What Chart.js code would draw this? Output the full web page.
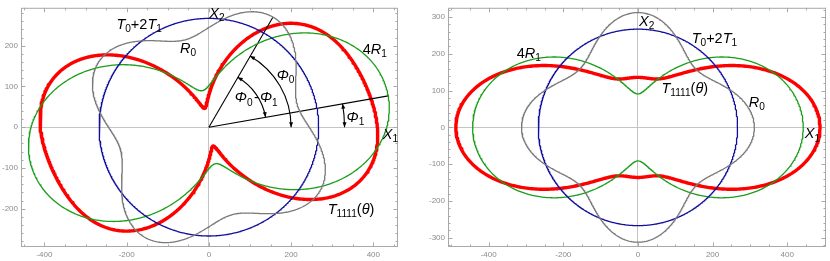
<!DOCTYPE html>
<html><head><meta charset="utf-8">
<script src="https://cdn.jsdelivr.net/npm/chart.js@4.4.1/dist/chart.umd.min.js"></script>
<style>
html,body{margin:0;padding:0;background:#fff;}
#wrap{position:relative;width:830px;height:261px;overflow:hidden;}
canvas{position:absolute;top:0;}
</style></head><body>
<div id="wrap"><canvas id="c1" width="415" height="261" style="left:0"></canvas><canvas id="c2" width="415" height="261" style="left:415px"></canvas></div>
<script>
// ---- data (polar invariants) ----
const panelNames = ['rotated', 'aligned'];
const isoModulus = [267, 267];   // T0 + 2T1
const anisoR0 = [45, 45];        // R0
const anisoR1x4 = [176, 176];    // 4R1
const polarPhi0 = [60, 0];       // Phi0, degrees
const polarPhi1 = [10, 0];       // Phi1, degrees
const xTickLabels = [-400, -200, 0, 200, 400];
const yTickLabelsLeft = [-200, -100, 0, 100, 200];
const yTickLabelsRight = [-300, -200, -100, 0, 100, 200, 300];
const angleSamples = Array.from({length: 721}, (_, i) => i * 0.5);

const FONT = '"Liberation Sans", Arial, Helvetica, sans-serif';
const D2R = Math.PI / 180;

function curve(fn) {
  return angleSamples.map(d => {
    const t = d * D2R, r = fn(t);
    return {x: r * Math.cos(t), y: r * Math.sin(t)};
  });
}

function drawRich(ctx, x, y, segs, size) {
  let cx = x;
  ctx.textBaseline = 'alphabetic';
  ctx.textAlign = 'left';
  ctx.fillStyle = '#000';
  for (const [t, s] of segs) {
    if (s === 'g') { cx += t; continue; }
    let fs = size, dy = 0, st = '';
    if (s === 'i') st = 'italic ';
    if (s === 's') { fs = size * 0.7; dy = size * 0.22; }
    ctx.font = st + fs + 'px ' + FONT;
    ctx.fillText(t, cx, y + dy);
    cx += ctx.measureText(t).width;
  }
}

function arrowHead(ctx, x, y, dx, dy) {
  const L = 5, W = 2;
  const n = Math.hypot(dx, dy); dx /= n; dy /= n;
  ctx.beginPath();
  ctx.moveTo(x, y);
  ctx.lineTo(x - dx * L - dy * W, y - dy * L + dx * W);
  ctx.lineTo(x - dx * L + dy * W, y - dy * L - dx * W);
  ctx.closePath();
  ctx.fill();
}

const SEG = {
  T02T1: [['T','i'],['0','s'],['+2','r'],['T','i'],['1','s']],
  R0: [['R','i'],['0','s']],
  R1: [['4','r'],['R','i'],['1','s']],
  X2: [['X','i'],['2','s']],
  X1: [['X','i'],['1','s']],
  P0: [['Φ','i'],['0','s']],
  P01: [['Φ','i'],['0','s'],[1.5,'g'],['-','r'],[1,'g'],['Φ','i'],['1','s']],
  P1: [['Φ','i'],['1','s']],
  T1111: [['T','i'],['1111','s'],['(','r'],['θ','i'],[')','r']]
};

const labelSets = [
  [
    {s: SEG.T02T1, x: -225, y: 242},
    {s: SEG.R0, x: -70, y: 182},
    {s: SEG.R1, x: 374, y: 180},
    {s: SEG.X2, x: 1, y: 269},
    {s: SEG.X1, x: 423, y: -28},
    {s: SEG.P0, x: 165, y: 117},
    {s: SEG.P01, x: 63, y: 61},
    {s: SEG.P1, x: 335, y: 13},
    {s: SEG.T1111, x: 289, y: -212}
  ],
  [
    {s: SEG.X2, x: 3, y: 275},
    {s: SEG.T02T1, x: 144, y: 229},
    {s: SEG.R1, x: -325, y: 189},
    {s: SEG.T1111, x: 63, y: 93},
    {s: SEG.R0, x: 297, y: 55},
    {s: SEG.X1, x: 447, y: -30}
  ]
];

// arcs: radius (data units), from angle, to angle (deg)
const arcSets = [
  [{r: 200, a: 'phi0', b: 0}, {r: 140, a: 'phi0', b: 'phi1'}, {r: 330, a: 'phi1', b: 0}],
  []
];

function makePanel(id, k, cfg) {
  const T = isoModulus[k], R0 = anisoR0[k], R1 = anisoR1x4[k];
  const p0 = polarPhi0[k] * D2R, p1 = polarPhi1[k] * D2R;
  const datasets = [
    {data: curve(t => T + R0 * Math.cos(4 * (t - p0))), borderColor: '#7a7a7a', borderWidth: 1.3},
    {data: curve(t => T), borderColor: '#10109c', borderWidth: 1.3},
    {data: curve(t => T + R1 * Math.cos(2 * (t - p1))), borderColor: '#1a9e1a', borderWidth: 1.3},
  ];
  if (cfg.axesLines) {
    datasets.push({data: [{x: 0, y: 0}, {x: (T + R0) * Math.cos(p0), y: (T + R0) * Math.sin(p0)}], borderColor: '#000', borderWidth: 1.1});
    datasets.push({data: [{x: 0, y: 0}, {x: (T + R1) * Math.cos(p1), y: (T + R1) * Math.sin(p1)}], borderColor: '#000', borderWidth: 1.1});
  }
  datasets.push({data: curve(t => T + R0 * Math.cos(4 * (t - p0)) + R1 * Math.cos(2 * (t - p1))), borderColor: '#ff0000', borderWidth: 3.4});
  datasets.forEach(d => { d.showLine = true; d.pointRadius = 0; d.tension = 0; d.fill = false; d.borderJoinStyle = 'round'; });

  const tickFont = {size: 8, family: FONT};
  const zeroGrid = c => (c.tick && c.tick.value === 0) ? '#c4c4c4' : 'rgba(0,0,0,0)';

  const framePlugin = {
    id: 'frame' + k,
    beforeDatasetsDraw(chart) {
      const {ctx, chartArea: a, scales: {x: xs, y: ys}} = chart;
      ctx.save();
      ctx.strokeStyle = '#a8a8a8';
      ctx.lineWidth = 1;
      ctx.strokeRect(a.left + 0.5, a.top + 0.5, a.right - a.left - 1, a.bottom - a.top - 1);
      ctx.beginPath();
      for (let v = Math.ceil(xs.min / 50) * 50; v <= xs.max; v += 50) {
        const px = Math.round(xs.getPixelForValue(v)) + 0.5;
        const L = (v % 200 === 0) ? 4.5 : 2.5;
        ctx.moveTo(px, a.bottom); ctx.lineTo(px, a.bottom - L);
        ctx.moveTo(px, a.top); ctx.lineTo(px, a.top + L);
      }
      for (let v = Math.ceil(ys.min / 20) * 20; v <= ys.max; v += 20) {
        const py = Math.round(ys.getPixelForValue(v)) + 0.5;
        const L = (v % 100 === 0) ? 4.5 : 2.5;
        ctx.moveTo(a.left, py); ctx.lineTo(a.left + L, py);
        ctx.moveTo(a.right, py); ctx.lineTo(a.right - L, py);
      }
      ctx.stroke();
      ctx.restore();
    },
    afterDatasetsDraw(chart) {
      const {ctx, scales: {x: xs, y: ys}} = chart;
      const x0 = xs.getPixelForValue(0), y0 = ys.getPixelForValue(0);
      const ang = v => v === 'phi0' ? polarPhi0[k] : v === 'phi1' ? polarPhi1[k] : v;
      ctx.save();
      ctx.strokeStyle = '#000'; ctx.fillStyle = '#000'; ctx.lineWidth = 1.1;
      for (const arc of arcSets[k]) {
        const rp = xs.getPixelForValue(arc.r) - x0;
        const a = ang(arc.a) * D2R, b = ang(arc.b) * D2R;
        const ca = -a, cb = -b;
        ctx.beginPath();
        ctx.arc(x0, y0, rp, ca, cb, false);
        ctx.stroke();
        arrowHead(ctx, x0 + rp * Math.cos(cb), y0 + rp * Math.sin(cb), -Math.sin(cb), Math.cos(cb));
        arrowHead(ctx, x0 + rp * Math.cos(ca), y0 + rp * Math.sin(ca), Math.sin(ca), -Math.cos(ca));
      }
      for (const L of labelSets[k]) {
        drawRich(ctx, xs.getPixelForValue(L.x), ys.getPixelForValue(L.y), L.s, 14.5);
      }
      ctx.restore();
    }
  };

  return new Chart(document.getElementById(id), {
    type: 'scatter',
    data: {datasets},
    options: {
      responsive: false, animation: false, devicePixelRatio: 1,
      layout: {padding: cfg.padding},
      plugins: {legend: {display: false}, tooltip: {enabled: false}},
      scales: {
        x: {
          type: 'linear', min: cfg.xmin, max: cfg.xmax,
          afterFit: s => { s.height = 14; },
          afterBuildTicks: s => { s.ticks = xTickLabels.map(v => ({value: v})); },
          ticks: {color: '#8a8a8a', font: tickFont, padding: 3, maxRotation: 0, autoSkip: false},
          grid: {drawTicks: false, color: zeroGrid, lineWidth: 1},
          border: {display: false}
        },
        y: {
          type: 'linear', min: cfg.ymin, max: cfg.ymax,
          afterFit: s => { s.width = cfg.yw; },
          afterBuildTicks: s => { s.ticks = cfg.yticks.map(v => ({value: v})); },
          ticks: {color: '#8a8a8a', font: tickFont, padding: 3, autoSkip: false},
          grid: {drawTicks: false, color: zeroGrid, lineWidth: 1},
          border: {display: false}
        }
      }
    },
    plugins: [framePlugin]
  });
}

makePanel('c1', 0, {padding: {left: 0, top: 4, right: 17, bottom: 0}, yw: 21,
  xmin: -457, xmax: 460, ymin: -294, ymax: 293, yticks: yTickLabelsLeft, axesLines: true});
makePanel('c2', 1, {padding: {left: 0, top: 4, right: 4, bottom: 0}, yw: 33,
  xmin: -509, xmax: 504, ymin: -325, ymax: 325, yticks: yTickLabelsRight, axesLines: false});
</script>
</body></html>
